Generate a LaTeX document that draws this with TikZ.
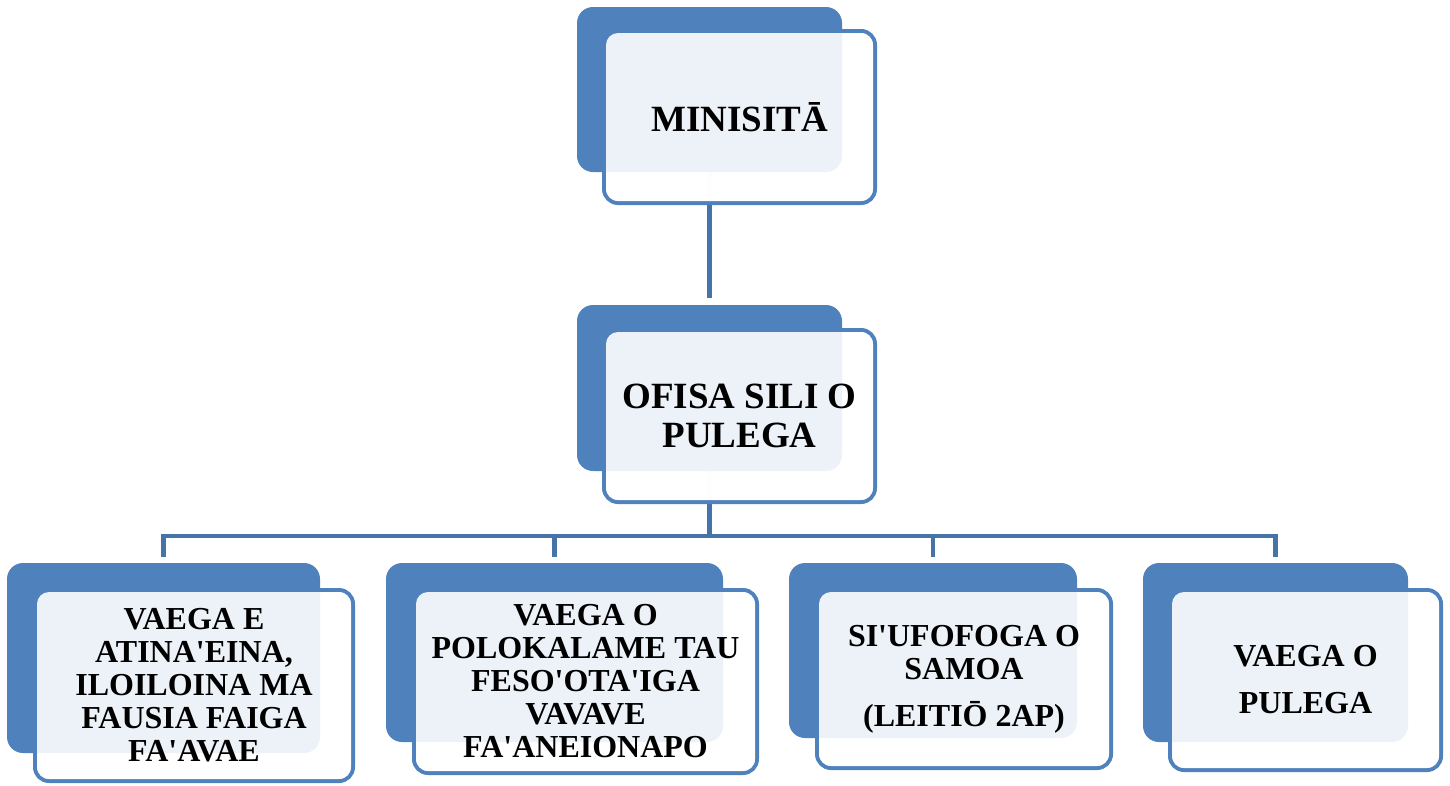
\documentclass[tikz,border=0pt]{standalone}
\usepackage{fontspec}
\setmainfont{Liberation Serif}[Ligatures=TeXOff]
\usetikzlibrary{backgrounds}
\definecolor{boxblue}{RGB}{79,129,189}
\definecolor{linkblue}{RGB}{70,115,168}

\begin{document}
\begin{tikzpicture}[x=1pt,y=-1pt]
	\tikzset{backbox/.style={fill=boxblue, rounded corners=16pt, inner sep=0pt},
		frontbox/.style={draw=boxblue, line width=4pt, fill=white, fill opacity=0.9, rounded corners=14pt, inner sep=0pt},
		facebox/.style={fill=white, fill opacity=0.9, text opacity=1, rounded corners=12pt, inner sep=0pt, align=center},
		bigtext/.style={font=\fontsize{37}{39}\selectfont\bfseries},
		smalltext/.style={font=\fontsize{32}{33}\selectfont\bfseries},
		link/.style={draw=linkblue, line width=4.5pt}}
	\useasboundingbox (0,0) rectangle (1450,785);
	
	% Minisita
	\node[frontbox, minimum width=271, minimum height=172] (topF) at (739.5,117) {};
	\node[backbox, minimum width=265, minimum height=165] (topB) at (709.5,89.5) {};
	\node[facebox, bigtext, minimum width=267, minimum height=168] (topT) at (topF) {MINISITĀ};
	
	% Ofisa sili
	\node[frontbox, minimum width=271, minimum height=172] (midF) at (739.5,416) {};
	\node[backbox, minimum width=265, minimum height=166] (midB) at (709.5,388) {};
	\node[facebox, bigtext, minimum width=267, minimum height=168] (midT) at (midF) {OFISA SILI O\\PULEGA};
	
	% Vaega
	\node[frontbox, minimum width=318, minimum height=191] (v1F) at (194,685.5) {};
	\node[backbox, minimum width=313, minimum height=190] (v1B) at (163.5,658) {};
	\node[facebox, smalltext, minimum width=314, minimum height=187] (v1T) at (v1F) {VAEGA E\\ATINA'EINA,\\ILOILOINA MA\\FAUSIA FAIGA\\FA'AVAE};
	
	\node[frontbox, minimum width=343, minimum height=183] (v2F) at (585.5,681.5) {};
	\node[backbox, minimum width=337, minimum height=179] (v2B) at (554.5,652.5) {};
	\node[facebox, smalltext, minimum width=339, minimum height=179] (v2T) at (v2F) {VAEGA O\\POLOKALAME TAU\\FESO'OTA'IGA\\VAVAVE\\FA'ANEIONAPO};
	
	\node[frontbox, minimum width=294, minimum height=178] (v3F) at (964,679) {};
	\node[backbox, minimum width=288, minimum height=175] (v3B) at (933,650.5) {};
	\node[facebox, smalltext, minimum width=290, minimum height=174] (v3T) at (v3F) {SI'UFOFOGA O\\SAMOA\\[14pt](LEITIŌ 2AP)};
	
	\node[frontbox, minimum width=271, minimum height=180] (v4F) at (1305.5,680) {};
	\node[backbox, minimum width=265, minimum height=179] (v4B) at (1275.5,652.5) {};
	\node[facebox, smalltext, minimum width=267, minimum height=176] (v4T) at (v4F) {VAEGA O\\[14pt]PULEGA};
	
	% connectors
	\begin{pgfonlayer}{background}
		\draw[link, shorten >=7pt] (topB.center) -- (midB.north);
		\path (midB.center) ++(0,148) coordinate (bus);
		\draw[link] (midB.center) -- (bus);
		\foreach \n in {1,...,4}{
			\draw[link, shorten >=6pt] (bus) -| (v\n B.north);
		}
	\end{pgfonlayer}
\end{tikzpicture}
\end{document}
